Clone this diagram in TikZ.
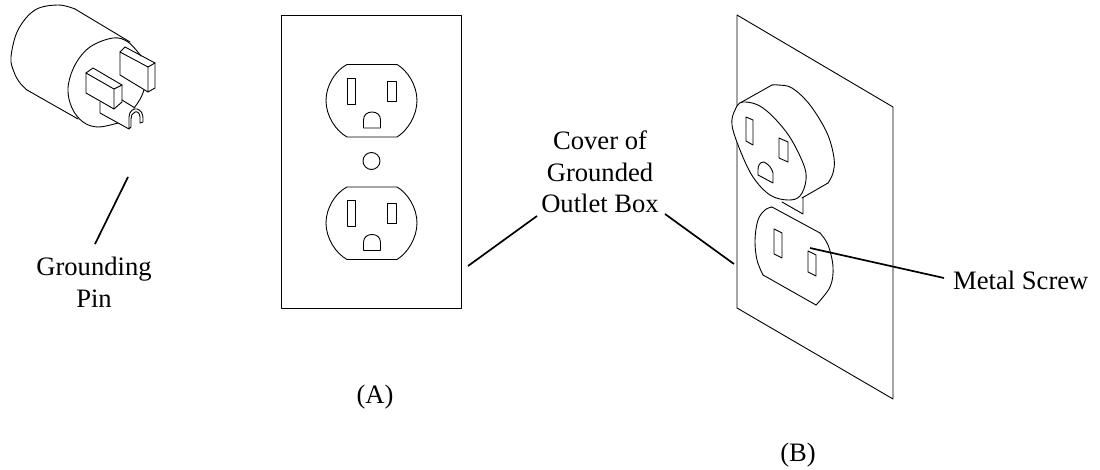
\documentclass[tikz,border=0pt]{standalone}
\usepackage{fontspec}
\setmainfont{Liberation Serif}
\tikzset{
  ln/.style={draw=black,line width=0.9pt,line join=round,line cap=round},
  lead/.style={draw=black,line width=1.7pt},
  lbl/.style={font=\fontsize{26.6}{31.6}\selectfont,align=center,inner sep=0pt,text=black}
}
\begin{document}
\begin{tikzpicture}[x=1pt,y=-1pt]
\useasboundingbox (0,0) rectangle (1100,470);
\fill[white] (0,0) rectangle (1100,470);
% plug
\draw[ln] plot[smooth,tension=0.6] coordinates {(75,9) (58,5) (35,10) (18,30) (11,57) (14,72) (20,83) (27,90)};
\draw[ln] (27,90) -- (78,119);
\draw[ln] (75,9) -- (130,42);
\draw[ln] plot[smooth,tension=0.6] coordinates {(141,56) (128,42) (113,38) (90,47) (75,65) (68,88) (72,108) (83,122) (98,127) (118,123)};
\draw[ln] (134,108) .. controls (138,103) and (142,97) .. (144,90);
\draw[ln] (120,52) -- (148,67) -- (148,92) -- (120,75) -- cycle;
\draw[ln] (120,52) -- (125,47) -- (155,63) -- (148,67);
\draw[ln] (155,63) -- (155,88) -- (148,92);
\draw[ln] (86,73) -- (114,89) -- (114,109) -- (86,93) -- cycle;
\draw[ln] (86,73) -- (93,68) -- (122,85) -- (114,89);
\draw[ln] (122,85) -- (122,102) -- (114,109);
\draw[ln] (100,102) -- (100,113) -- (129,129) -- (129,117) .. controls (129,111) and (134,108) .. (137,109) .. controls (141,110) and (143,114) .. (143,118) -- (143,122) -- (140,123) -- (140,117) .. controls (140,113) and (137,111) .. (135,112) .. controls (132,113) and (131,116) .. (131,119) -- (131,127) -- (129,129);
\draw[ln] (122,100) -- (135,108);
% outlet A
\draw[ln] (281,15) rectangle (461,308);
\foreach \dy in {0,122.5}{
\begin{scope}[yshift=-\dy pt]
\draw[ln] (347,64.5) -- (397,64.5) .. controls (407,70) and (417,85) .. (417,100.5) .. controls (417,116) and (407,131) .. (397,137) -- (347,137) .. controls (336,131) and (326,116) .. (326,100.5) .. controls (326,85) and (336,70) .. (347,64.5) -- cycle;
\draw[ln] (347,78) rectangle (355,104);
\draw[ln] (387.5,81) rectangle (396.5,101);
\draw[ln] (363.5,128) -- (380.5,128) -- (380.5,120) .. controls (380.5,115) and (377,112) .. (372,112) .. controls (367,112) and (363.5,115) .. (363.5,120) -- cycle;
\end{scope}}
\node[draw=black,line width=0.9pt,circle,minimum size=17pt,inner sep=0pt] (hole) at (371.5,161) {};
% outlet B
\draw[ln] (737,15) -- (893,107) -- (893,399) -- (737,308) -- cycle;
\fill[white] (732,125) -- (743,102) -- (772,85) -- (792,88) -- (810,105) -- (827,133) -- (834,158) -- (828,183) -- (802,198) -- (788,200) -- (753,177) -- cycle;
\draw[ln] (740,103) -- (772,85);
\draw[ln] plot[smooth,tension=0.6] coordinates {(772,85) (778,85) (792,88) (810,105) (827,133) (834,158) (833,173) (828,183)};
\draw[ln] (828,183) -- (802,198);
\draw[ln,fill=white] plot[smooth cycle,tension=0.6] coordinates {(732,125) (735,110) (743,102) (763,108) (787,133) (803,163) (806,180) (800,196) (788,200) (770,195) (753,177) (740,150)};
\draw[ln] (746,117) -- (753,120) -- (753,145) -- (746,141) -- cycle;
\draw[ln] (779,138) -- (788,142) -- (788,162) -- (779,158) -- cycle;
\draw[ln] (758,175) -- (773,183) -- (773,173) .. controls (772,168) and (768,164) .. (764,162) .. controls (760,162) and (758,165) .. (758,170) -- cycle;
\draw[ln] (782,202) -- (803,214) -- (803,197);
\draw[ln] (772,207) -- (820,233);
\draw[ln] plot[smooth,tension=0.6] coordinates {(820,233) (828,245) (833,267) (830,287) (816,305)};
\draw[ln] (816,305) -- (763,275);
\draw[ln] plot[smooth,tension=0.6] coordinates {(763,275) (757,260) (755,240) (758,220) (765,210) (772,207)};
\draw[ln] (774,229) -- (782,233) -- (782,258) -- (774,254) -- cycle;
\draw[ln] (808,251) -- (816,255) -- (816,276) -- (808,272) -- cycle;
% labels
\coordinate (pa) at (128,177);
\coordinate (pb) at (95,244);
\node[lbl] (pin) at (94,282) {Grounding\\Pin};
\draw[lead] (pa) -- (pb);
\node[lbl] (cov) at (600,172) {Cover of\\Grounded\\Outlet Box};
\coordinate (ca) at (468,266);
\coordinate (cb) at (537,216);
\coordinate (cc) at (665,214);
\coordinate (cd) at (734,264);
\draw[lead] (ca) -- (cb);
\draw[lead] (cc) -- (cd);
\node[lbl,anchor=base west] (ms) at (953,290) {Metal Screw};
\coordinate (sa) at (810,248);
\coordinate (sb) at (944,278);
\draw[lead] (sa) -- (sb);
\node[lbl] (A) at (375,397) {(A)};
\node[lbl] (B) at (798,455) {(B)};
\end{tikzpicture}
\end{document}
